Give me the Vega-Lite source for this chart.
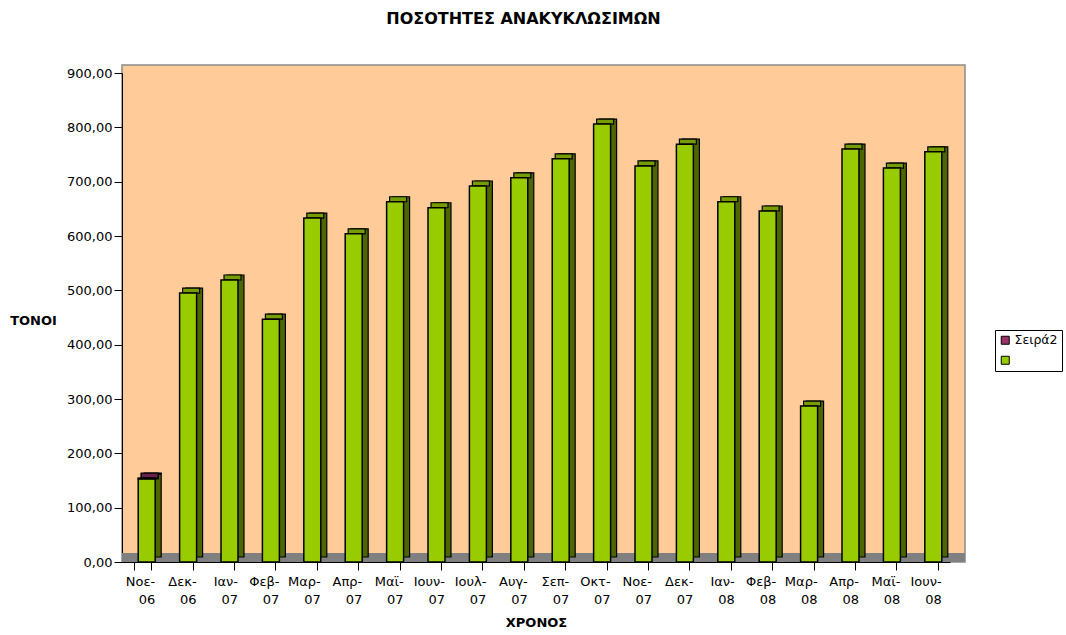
{
  "$schema": "https://vega.github.io/schema/vega-lite/v6.json",
  "width": 843,
  "height": 497,
  "autosize": {"type": "none"},
  "padding": {"left": 122, "top": 65, "right": 101, "bottom": 73},
  "background": "white",
  "title": {"text": "ΠΟΣΟΤΗΤΕΣ ΑΝΑΚΥΚΛΩΣΙΜΩΝ", "font": "DejaVu Sans", "fontSize": 16, "fontWeight": "bold", "color": "#000000", "anchor": "middle", "offset": 38, "dx": -20},
  "config": {
    "view": {"fill": "#FFCC99", "stroke": "#8C8C8C", "strokeWidth": 1.5},
    "axis": {"domainColor": "#000000", "tickColor": "#000000", "labelColor": "#000000", "titleColor": "#000000", "labelFont": "DejaVu Sans", "labelFontSize": 13, "titleFont": "DejaVu Sans", "titleFontSize": 13, "titleFontWeight": "bold", "grid": false, "domainWidth": 1, "tickWidth": 1},
    "legend": {"orient": "none", "legendX": 873, "legendY": 265, "strokeColor": "#000000", "fillColor": "#FFFFFF", "padding": 4, "symbolType": "square", "symbolSize": 64, "symbolStrokeColor": "#000000", "symbolStrokeWidth": 1, "labelFont": "DejaVu Sans", "labelFontSize": 12.5, "labelColor": "#000000", "rowPadding": 7, "labelOffset": 3}
  },
  "data": {"values": [
    {"month": "Νοε-06", "series": " ", "value": 153},
    {"month": "Δεκ-06", "series": " ", "value": 495},
    {"month": "Ιαν-07", "series": " ", "value": 519},
    {"month": "Φεβ-07", "series": " ", "value": 447},
    {"month": "Μαρ-07", "series": " ", "value": 633},
    {"month": "Απρ-07", "series": " ", "value": 604},
    {"month": "Μαϊ-07", "series": " ", "value": 663},
    {"month": "Ιουν-07", "series": " ", "value": 652},
    {"month": "Ιουλ-07", "series": " ", "value": 692},
    {"month": "Αυγ-07", "series": " ", "value": 707},
    {"month": "Σεπ-07", "series": " ", "value": 742},
    {"month": "Οκτ-07", "series": " ", "value": 806},
    {"month": "Νοε-07", "series": " ", "value": 729},
    {"month": "Δεκ-07", "series": " ", "value": 769},
    {"month": "Ιαν-08", "series": " ", "value": 663},
    {"month": "Φεβ-08", "series": " ", "value": 646},
    {"month": "Μαρ-08", "series": " ", "value": 287},
    {"month": "Απρ-08", "series": " ", "value": 760},
    {"month": "Μαϊ-08", "series": " ", "value": 725},
    {"month": "Ιουν-08", "series": " ", "value": 755},
    {"month": "Νοε-06", "series": "Σειρά2", "value": 1.5}
  ]},
  "transform": [
    {"stack": "value", "groupby": ["month"], "sort": [{"field": "series", "order": "ascending"}], "as": ["v0", "v1"]}
  ],
  "layer": [
    {
      "mark": {"type": "rect", "color": "#808080"},
      "encoding": {
        "y": {"datum": 0, "type": "quantitative", "scale": {"domain": [0, 900], "range": [497, 8], "nice": false}},
        "y2": {"datum": 16.5}
      }
    },
    {
      "mark": {"type": "bar", "color": "#4D6600", "stroke": "#000000", "strokeWidth": 1.2, "xOffset": 10, "yOffset": -5, "y2Offset": -5},
      "encoding": {
        "x": {"field": "month", "type": "nominal", "sort": ["Νοε-06", "Δεκ-06", "Ιαν-07", "Φεβ-07", "Μαρ-07", "Απρ-07", "Μαϊ-07", "Ιουν-07", "Ιουλ-07", "Αυγ-07", "Σεπ-07", "Οκτ-07", "Νοε-07", "Δεκ-07", "Ιαν-08", "Φεβ-08", "Μαρ-08", "Απρ-08", "Μαϊ-08", "Ιουν-08"]},
        "y": {"field": "v1", "type": "quantitative"},
        "y2": {"field": "v0"}
      }
    },
    {
      "mark": {"type": "bar", "stroke": "#000000", "strokeWidth": 1.2, "xOffset": 7, "yOffset": -5, "y2Offset": 0},
      "encoding": {
        "x": {"field": "month", "type": "nominal", "sort": ["Νοε-06", "Δεκ-06", "Ιαν-07", "Φεβ-07", "Μαρ-07", "Απρ-07", "Μαϊ-07", "Ιουν-07", "Ιουλ-07", "Αυγ-07", "Σεπ-07", "Οκτ-07", "Νοε-07", "Δεκ-07", "Ιαν-08", "Φεβ-08", "Μαρ-08", "Απρ-08", "Μαϊ-08", "Ιουν-08"]},
        "y": {"field": "v1", "type": "quantitative"},
        "y2": {"field": "v1"},
        "color": {"field": "series", "type": "nominal", "scale": {"domain": ["Σειρά2", " "], "range": ["#66224A", "#779C00"]}, "legend": null},
        "order": {"field": "series", "sort": "ascending"}
      }
    },
    {
      "mark": {"type": "bar", "stroke": "#000000", "strokeWidth": 1.5, "xOffset": 4},
      "encoding": {
        "x": {
          "field": "month", "type": "nominal",
          "sort": ["Νοε-06", "Δεκ-06", "Ιαν-07", "Φεβ-07", "Μαρ-07", "Απρ-07", "Μαϊ-07", "Ιουν-07", "Ιουλ-07", "Αυγ-07", "Σεπ-07", "Οκτ-07", "Νοε-07", "Δεκ-07", "Ιαν-08", "Φεβ-08", "Μαρ-08", "Απρ-08", "Μαϊ-08", "Ιουν-08"],
          "scale": {"range": [0, 828], "paddingInner": 0.59, "paddingOuter": 0.295},
          "axis": {"title": "ΧΡΟΝΟΣ", "labelAngle": 0, "tickBand": "extent", "tickSize": 8, "labelPadding": 11, "labelLineHeight": 18, "labelOffset": 12, "titlePadding": 10, "labelExpr": "[slice(datum.label, 0, indexof(datum.label, '-') + 1), slice(datum.label, indexof(datum.label, '-') + 1)]"}
        },
        "y": {
          "field": "v1", "type": "quantitative",
          "scale": {"domain": [0, 900], "range": [497, 8], "nice": false},
          "axis": {"title": "ΤΟΝΟΙ", "values": [0, 100, 200, 300, 400, 500, 600, 700, 800, 900], "labelExpr": "replace(format(datum.value, '.2f'), '.', ',')", "tickSize": 8, "labelPadding": 2, "titleAngle": 0, "titleX": -89, "titleY": 255, "titleAlign": "center", "titleBaseline": "middle"}
        },
        "y2": {"field": "v0"},
        "color": {"field": "series", "type": "nominal", "scale": {"domain": ["Σειρά2", " "], "range": ["#993366", "#99CC00"]}, "legend": {"title": null}}
      }
    }
  ],
  "resolve": {"scale": {"color": "independent"}}
}
